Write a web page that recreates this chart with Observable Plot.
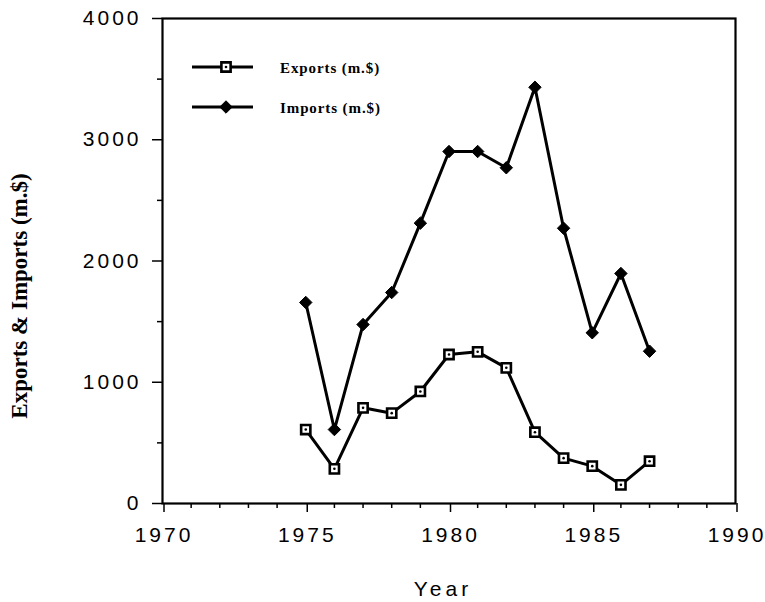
<!DOCTYPE html>
<html><head><meta charset="utf-8">
<script src="https://cdn.jsdelivr.net/npm/d3@7"></script>
<script src="https://cdn.jsdelivr.net/npm/@observablehq/plot@0.6"></script>
<style>
body{margin:0;background:#fff}
#wrap{position:relative;width:765px;height:602px}
#legend{position:absolute;left:0;top:0}
</style>
</head><body><div id="wrap"></div>
<script>
const years = [1975,1976,1977,1978,1979,1980,1981,1982,1983,1984,1985,1986,1987];
const exportsVals = [610,286,789,745,924,1229,1251,1119,588,374,308,154,349];
const importsVals = [1658,610,1476,1740,2312,2903,2903,2769,3433,2270,1408,1897,1256];
const seriesNames = ["Exports (m.$)","Imports (m.$)"];
const xTicks = [1970,1975,1980,1985,1990];
const xMinorTicks = [1971,1972,1973,1974,1976,1977,1978,1979,1981,1982,1983,1984,1986,1987,1988,1989];
const yTicks = [0,1000,2000,3000,4000];
const yMinorTicks = [500,1500,2500,3500];
const xLabel = "Year";
const yLabel = "Exports & Imports (m.$)";

const exportsData = years.map((y,i)=>({year:y, value:exportsVals[i]}));
const importsData = years.map((y,i)=>({year:y, value:importsVals[i]}));

const sansFam = "'Liberation Sans', Arial, sans-serif";
const serifFam = "'Liberation Serif', 'Times New Roman', serif";
const tickFont = {fontSize:21, fontFamily:sansFam};

const chart = Plot.plot({
  width:765, height:602,
  marginLeft:162, marginRight:30, marginTop:18, marginBottom:99,
  style:{background:"#fff", color:"#000", overflow:"visible"},
  x:{domain:[1970,1990], label:null},
  y:{domain:[0,4000], label:null},
  marks:[
    Plot.axisX(xMinorTicks, {tickSize:5, strokeWidth:1.5, tickFormat:()=>"", label:null}),
    Plot.axisX(xTicks, {tickSize:9, strokeWidth:1.5, tickPadding:15, tickFormat:d=>String(d), label:null, dx:1.5, ...tickFont}),
    Plot.axisY(yMinorTicks, {tickSize:5, strokeWidth:1.5, tickFormat:()=>"", label:null}),
    Plot.axisY(yTicks, {tickSize:10, strokeWidth:1.5, tickPadding:11, tickFormat:d=>String(d), label:null, ...tickFont}),
    Plot.frame({stroke:"#000", strokeWidth:2.2}),
    Plot.line(importsData, {x:"year", y:"value", stroke:"#000", strokeWidth:3}),
    Plot.line(exportsData, {x:"year", y:"value", stroke:"#000", strokeWidth:3}),
    Plot.dot(importsData, {x:"year", y:"value", symbol:"diamond2", r:5.6, fill:"#000", stroke:"#000", strokeWidth:1}),
    Plot.dot(exportsData, {x:"year", y:"value", symbol:"square", r:5.2, fill:"#fff", stroke:"#000", strokeWidth:2.6}),
    Plot.dot(exportsData, {x:"year", y:"value", r:1.3, fill:"#000"}),
    Plot.text([xLabel], {frameAnchor:"bottom", textAnchor:"middle", lineAnchor:"middle", dy:86, dx:-6, fontSize:21, fontFamily:sansFam}),
    Plot.text([yLabel], {frameAnchor:"left", textAnchor:"middle", lineAnchor:"middle", rotate:-90, dx:-143, dy:35, fontSize:23, fontWeight:"bold", fontFamily:serifFam})
  ]
});
document.getElementById("wrap").appendChild(chart);

// letter spacing for the sans labels (tick labels and x title)
d3.select(chart).selectAll("g[aria-label$='tick label'] text").style("letter-spacing","3px");
d3.select(chart).selectAll("text").filter(function(){ return this.textContent === xLabel; }).style("letter-spacing","4px");

// legend overlay
const svg = d3.select("#wrap").append("svg").attr("id","legend").attr("width",765).attr("height",602);
const sizeSq = Math.PI*5.2*5.2, sizeDi = Math.PI*5.6*5.6;
seriesNames.forEach((name,i)=>{
  const g = svg.append("g").attr("transform",`translate(0,${67+i*40})`);
  g.append("line").attr("x1",192).attr("x2",253).attr("y1",0).attr("y2",0).attr("stroke","#000").attr("stroke-width",3);
  if(i===0){
    g.append("path").attr("d",d3.symbol(d3.symbolSquare,sizeSq)()).attr("transform","translate(226,0)").attr("fill","#fff").attr("stroke","#000").attr("stroke-width",2.6);
    g.append("circle").attr("cx",226).attr("cy",0).attr("r",1.3).attr("fill","#000");
  } else {
    g.append("path").attr("d",d3.symbol(d3.symbolDiamond2,sizeDi)()).attr("transform","translate(226,0)").attr("fill","#000").attr("stroke","#000");
  }
  g.append("text").attr("x",280).attr("y",5.5).text(name)
    .attr("font-family",serifFam).attr("font-weight","bold").attr("font-size",15).attr("letter-spacing","0.9px");
});
</script>
</body></html>
